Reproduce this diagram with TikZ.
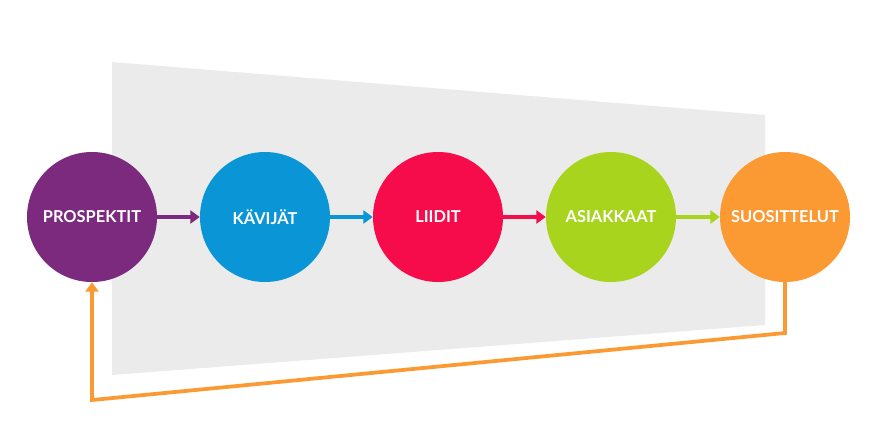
\documentclass[tikz,border=0pt]{standalone}
\usepackage{fontspec}
\setmainfont{Lato}
\usetikzlibrary{arrows.meta}
\definecolor{cpur}{HTML}{7B2A7E}
\definecolor{cblu}{HTML}{0A96D6}
\definecolor{cred}{HTML}{F60C4A}
\definecolor{cgrn}{HTML}{A8D41D}
\definecolor{cora}{HTML}{FB9A32}
\definecolor{cgry}{HTML}{EBEBEB}
\tikzset{stage/.style={circle,minimum size=3.9cm,inner sep=0pt,text=white,font=\bfseries\fontsize{14}{16}\selectfont},
flow/.style={line width=3.2pt,-{Triangle[length=8pt,width=11pt]}}}
\begin{document}
\begin{tikzpicture}[x=0.03cm,y=-0.03cm]
\useasboundingbox (0,0) rectangle (877,439);
\fill[cgry] (112,62) -- (765,115) -- (765,325) -- (112,375) -- cycle;
\node[stage,fill=cpur] (a) at (92,217) {PROSPEKTIT};
\node[stage,fill=cblu] (b) at (265,217) {KÄVIJÄT};
\node[stage,fill=cred] (c) at (438,217) {LIIDIT};
\node[stage,fill=cgrn] (d) at (611,217) {ASIAKKAAT};
\node[stage,fill=cora] (e) at (785,217) {SUOSITTELUT};
\draw[flow,cpur] (a) -- (b);
\draw[flow,cblu] (b) -- (c);
\draw[flow,cred] (c) -- (d);
\draw[flow,cgrn] (d) -- (e);
\coordinate (p1) at (785,333);
\coordinate (p2) at (92,400);
\draw[flow,cora] (e.south) -- (p1) -- (p2) -- (a.south);
\end{tikzpicture}
\end{document}
